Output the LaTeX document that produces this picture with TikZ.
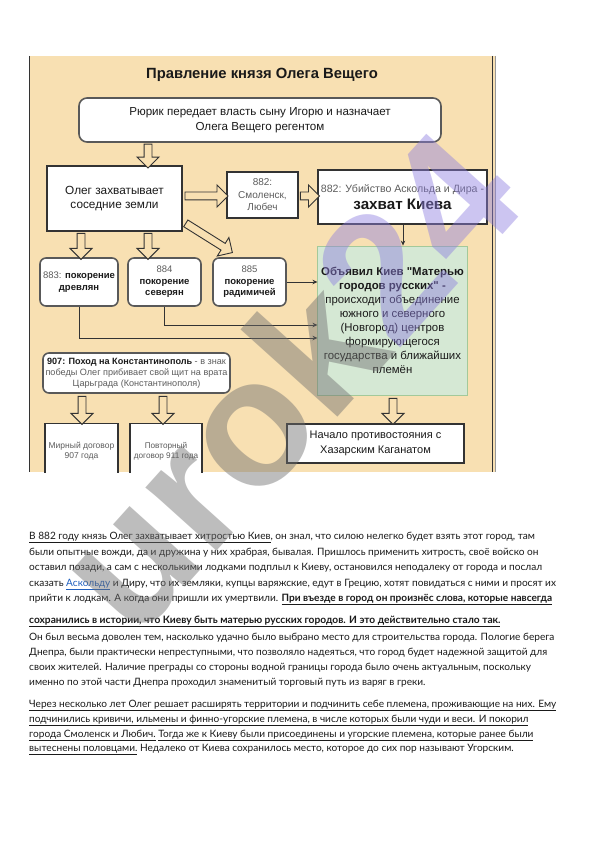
\documentclass[tikz,border=0pt]{standalone}
\usepackage{fontspec}
\setmainfont{Lato}
\newfontfamily\diag{Liberation Sans}
\usetikzlibrary{arrows.meta,positioning,shapes.arrows,calc}
\definecolor{bg}{HTML}{F8E0B2}
\definecolor{edge}{HTML}{333333}
\definecolor{redge}{HTML}{595959}
\definecolor{txt}{HTML}{1A1A1A}
\definecolor{txt2}{HTML}{5C5C5C}
\definecolor{greenfill}{HTML}{D5E8D4}
\definecolor{greenedge}{HTML}{A3C99A}
\definecolor{link}{HTML}{1F5FBF}
\definecolor{wmgray}{HTML}{6E6E6E}
\definecolor{wmpurple}{HTML}{8E7FE0}
\newcommand\uln[1]{\underline{#1}}

\begin{document}
\begin{tikzpicture}[
  x=1pt, y=-1pt,
  >=Stealth,
  box/.style={draw=edge, line width=1.2pt, fill=white, align=center, text=txt,
    inner sep=1pt, font=\diag\fontsize{11.6}{15}\selectfont},
  rbox/.style={box, draw=redge, line width=1.6pt, rounded corners=6pt},
  blockarr/.style={single arrow, draw=edge, fill=bg, line width=0.9pt,
    minimum width=21pt, single arrow head extend=7pt, single arrow head indent=0pt,
    inner xsep=0pt, inner ysep=3.5pt, minimum height=#1, midway, sloped, allow upside down},
  flow/.style={draw=edge, line width=0.8pt, -{Stealth[length=5pt,width=4.5pt]}},
  para/.style={anchor=base west, inner sep=0pt, text=txt, font=\fontsize{10.1}{12}\selectfont},
]

\useasboundingbox (0,0) rectangle (596,842);
\fill[white] (0,0) rectangle (596,842);

\fill[bg] (29,56) rectangle (495,472);
\draw[edge, line width=1pt] (29.5,56) -- (29.5,472);
\draw[edge, line width=1pt] (492.5,56) -- (492.5,472);
\draw[edge!50, line width=0.6pt] (495,56) -- (495,472);

\node[font=\diag\bfseries\fontsize{14.8}{17}\selectfont, text=txt] (title) at (262,75) {Правление князя Олега Вещего};

\node[rbox, rounded corners=8pt, minimum width=362pt, minimum height=44pt] (rurik) at (260,120)
  {Рюрик передает власть сыну Игорю и назначает\\Олега Вещего регентом};

\node[box, minimum width=135pt, minimum height=65pt, font=\diag\fontsize{11.8}{14}\selectfont] (oleg) at (114.5,198.5)
  {Олег захватывает\\соседние земли};

\node[box, minimum width=71pt, minimum height=46pt, text=txt2, font=\diag\fontsize{10}{12.5}\selectfont] (smol) at (262.5,195)
  {882:\\Смоленск,\\Любеч};

\node[box, line width=1.5pt, minimum width=169pt, minimum height=54pt, font=\diag\fontsize{10.6}{17}\selectfont] (kiev) at (402.5,197)
  {{\color{txt2}882: Убийство Аскольда и Дира -}\\{\bfseries\fontsize{15.2}{17}\selectfont захват Киева}};

\node[draw=greenedge, fill=greenfill, line width=0.8pt, minimum width=149pt, minimum height=149pt,
  align=center, text=txt, font=\diag\fontsize{11.4}{13.9}\selectfont] (green) at (392.5,320.5)
  {\textbf{Объявил Киев "Матерью}\\\textbf{городов русских" -}\\происходит объединение\\южного и северного\\(Новгород) центров\\формирующегося\\государства и ближайших\\племён};

\node[box, minimum width=177pt, minimum height=39pt, font=\diag\fontsize{11}{15}\selectfont] (nachalo) at (375.5,443.5)
  {Начало противостояния с\\Хазарским Каганатом};

\node[rbox, minimum width=78pt, minimum height=48pt, inner sep=0pt, font=\diag\fontsize{9.5}{12.5}\selectfont] (drev) at (79,282)
  {{\color{txt2}883:} \textbf{покорение}\\\textbf{древлян}};
\node[rbox, minimum width=73pt, minimum height=48pt, font=\diag\fontsize{9.5}{11.5}\selectfont] (sever) at (164.5,282)
  {{\color{txt2}884}\\\textbf{покорение}\\\textbf{северян}};
\node[rbox, minimum width=73pt, minimum height=48pt, font=\diag\fontsize{9.5}{11.5}\selectfont] (radim) at (249.5,282)
  {{\color{txt2}885}\\\textbf{покорение}\\\textbf{радимичей}};

\node[rbox, minimum width=187pt, minimum height=40pt, inner sep=0pt, text=txt2, font=\diag\fontsize{9.1}{11}\selectfont] (pohod) at (136.5,373)
  {{\color{txt}\bfseries 907: Поход на Константинополь} - в знак\\победы Олег прибивает свой щит на врата\\Царьграда (Константинополя)};

\begin{scope}
\clip (29,56) rectangle (495,472);
\node[box, anchor=north, minimum width=73pt, minimum height=55pt, text=txt2, font=\diag\fontsize{8.5}{10.5}\selectfont] (mirny) at (81.5,423)
  {Мирный договор\\907 года};
\node[box, anchor=north, minimum width=72pt, minimum height=55pt, text=txt2, font=\diag\fontsize{8.2}{10.5}\selectfont] (povt) at (166,423)
  {Повторный\\договор 911 года};
\end{scope}

\path (rurik.south -| 148,0) -- (oleg.north -| 148,0) node[blockarr=24pt] {};
\path (oleg.east |- 0,196) -- (smol.west |- 0,196) node[blockarr=43pt] {};
\path (smol.east |- 0,196) -- (kiev.west |- 0,196) node[blockarr=19pt] {};
\path (oleg.south -| 81,0) -- (drev.north -| 81,0) node[blockarr=26pt] {};
\path (oleg.south -| 148,0) -- (sever.north -| 148,0) node[blockarr=26pt] {};
\path ($(oleg.south east)+(2,-9)$) -- ($(radim.north west)+(18,-6)$) node[blockarr=55pt] {};
\path (green.south -| 393,0) -- (nachalo.north -| 393,0) node[blockarr=26pt] {};
\path (pohod.south -| 82,0) -- (mirny.north -| 82,0) node[blockarr=28pt] {};
\path (pohod.south -| 163,0) -- (povt.north -| 163,0) node[blockarr=28pt] {};

\draw[flow] (kiev.south -| 403,0) -- (green.north -| 403,0);
\draw[flow] (radim.east) -- (green.west |- radim.east);
\draw[flow] (sever.south) |- (green.west |- 0,325);
\draw[flow] (drev.south) |- (green.west |- 0,338);

\node[para] (p1) at (29,539.5) {\uln{В 882 году князь Олег захватывает хитростью Киев}, он знал, что силою нелегко будет взять этот город, там};
\node[para] (p2) at (29,555) {были опытные вожди, да и дружина у них храбрая, бывалая. Пришлось применить хитрость, своё войско он};
\node[para] (p3) at (29,570.5) {оставил позади, а сам с несколькими лодками подплыл к Киеву, остановился неподалеку от города и послал};
\node[para] (p4) at (29,586) {сказать {\color{link}\uln{Аскольду}} и Диру, что их земляки, купцы варяжские, едут в Грецию, хотят повидаться с ними и просят их};
\node[para] (p5) at (29,601.5) {прийти к лодкам. А когда они пришли их умертвили. \textbf{\uln{При въезде в город он произнёс слова, которые навсегда}}};
\node[para, font=\fontsize{10.2}{12}\selectfont] (p6) at (29,623.5) {\textbf{\uln{сохранились в истории, что Киеву быть матерью русских городов. И это действительно стало так.}}};

\node[para] (q1) at (29,640) {Он был весьма доволен тем, насколько удачно было выбрано место для строительства города. Пологие берега};
\node[para] (q2) at (29,655) {Днепра, были практически непреступными, что позволяло надеяться, что город будет надежной защитой для};
\node[para] (q3) at (29,670) {своих жителей. Наличие преграды со стороны водной границы города было очень актуальным, поскольку};
\node[para] (q4) at (29,685) {именно по этой части Днепра проходил знаменитый торговый путь из варяг в греки.};

\node[para] (r1) at (29,707) {\uln{Через несколько лет Олег решает расширять территории и подчинить себе племена, проживающие на них. Ему}};
\node[para] (r2) at (29,722) {\uln{подчинились кривичи, ильмены и финно-угорские племена, в числе которых были чуди и веси. И покорил}};
\node[para] (r3) at (29,737) {\uln{города Смоленск и Любич.} \uln{Тогда же к Киеву были присоединены и угорские племена, которые ранее были}};
\node[para] (r4) at (29,751.5) {\uln{вытеснены половцами.} Недалеко от Киева сохранилось место, которое до сих пор называют Угорским.};

\node[rotate=48, opacity=0.45, font=\diag\bfseries\fontsize{180}{180}\selectfont] (wm) at (285,380)
  {\color{wmgray}urok\color{wmpurple}24};

\end{tikzpicture}
\end{document}
